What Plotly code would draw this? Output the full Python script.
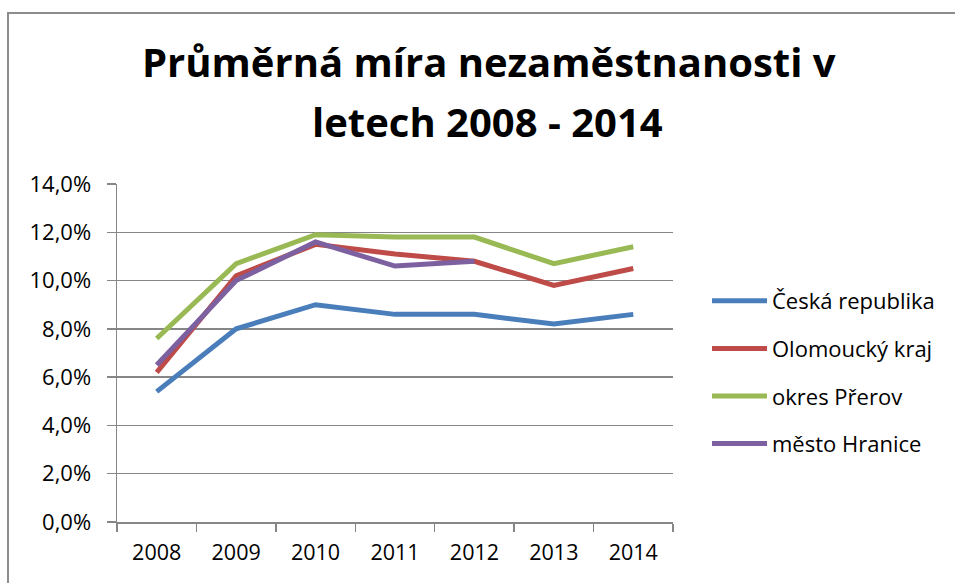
import plotly.graph_objects as go

years = ["2008", "2009", "2010", "2011", "2012", "2013", "2014"]
ceska_republika = [5.4, 8.0, 9.0, 8.6, 8.6, 8.2, 8.6]
olomoucky_kraj = [6.2, 10.2, 11.5, 11.1, 10.8, 9.8, 10.5]
okres_prerov = [7.6, 10.7, 11.9, 11.8, 11.8, 10.7, 11.4]
mesto_hranice = [6.5, 10.0, 11.6, 10.6, 10.8, None, None]

series_names = ["Česká republika", "Olomoucký kraj", "okres Přerov", "město Hranice"]
series_values = [ceska_republika, olomoucky_kraj, okres_prerov, mesto_hranice]
colors = ["#4A7EBB", "#BE4B48", "#98B954", "#7D60A0"]

y_tick_values = [0, 2, 4, 6, 8, 10, 12, 14]
y_tick_labels = ["0,0%", "2,0%", "4,0%", "6,0%", "8,0%", "10,0%", "12,0%", "14,0%"]

title_line1 = "Průměrná míra nezaměstnanosti v"
title_line2 = "letech 2008 - 2014"

W, H = 955, 583
L, R, T, B = 117, 282, 184, 61
pw, ph = W - L - R, H - T - B

def px_x(x):
    return (x - L) / pw

def px_y(y):
    return (H - B - y) / ph

FONT = "Open Sans"

fig = go.Figure()
for i, (name, vals, col) in enumerate(zip(series_names, series_values, colors)):
    fig.add_trace(go.Scatter(
        x=years, y=vals, name=name, mode="lines",
        line=dict(color=col, width=5),
        legendgroup=str(i), connectgaps=False,
    ))

fig.update_layout(
    width=W, height=H,
    margin=dict(l=L, r=R, t=T, b=B, pad=0),
    paper_bgcolor="white", plot_bgcolor="white",
    font=dict(family=FONT, size=21, color="#000000"),
    showlegend=True,
    legend=dict(
        x=px_x(707), xanchor="left",
        y=px_y(280), yanchor="top",
        font=dict(family=FONT, size=22, color="#000000"),
        tracegroupgap=16, itemwidth=55,
        bgcolor="rgba(0,0,0,0)", borderwidth=0,
    ),
    xaxis=dict(
        type="category", range=[-0.5, 6.5],
        showgrid=False, showline=True, linecolor="#868686", linewidth=1.5,
        ticks="outside", tickson="boundaries", ticklen=8, tickcolor="#868686", tickwidth=1.5,
        tickfont=dict(family=FONT, size=21.5, color="#000000"),
        ticklabelstandoff=11,
        zeroline=False, fixedrange=True,
    ),
    yaxis=dict(
        range=[0, 14], tickvals=y_tick_values, ticktext=y_tick_labels,
        showgrid=True, gridcolor="#868686", gridwidth=1.5,
        showline=True, linecolor="#868686", linewidth=1.5,
        ticks="outside", ticklen=9, tickcolor="#868686", tickwidth=1.5,
        tickfont=dict(family=FONT, size=22, color="#000000"),
        ticklabelstandoff=11,
        zeroline=False, fixedrange=True,
    ),
    annotations=[
        dict(text="<b>" + title_line1 + "</b>", xref="paper", yref="paper",
             x=px_x(489), y=px_y(61), xanchor="center", yanchor="middle",
             showarrow=False, font=dict(family=FONT, size=40, color="#000000")),
        dict(text="<b>" + title_line2 + "</b>", xref="paper", yref="paper",
             x=px_x(487), y=px_y(122), xanchor="center", yanchor="middle",
             showarrow=False, font=dict(family=FONT, size=40, color="#000000")),
    ],
    shapes=[
        dict(type="rect", xref="paper", yref="paper",
             x0=px_x(8), x1=px_x(8) + 3, y0=-1, y1=px_y(13),
             line=dict(color="#8c8c8c", width=2), fillcolor="rgba(0,0,0,0)", layer="below"),
    ],
)

fig.write_html("out.html", config={"displayModeBar": False, "staticPlot": True},
               post_script="document.body.style.margin='0';document.body.style.padding='0';")
